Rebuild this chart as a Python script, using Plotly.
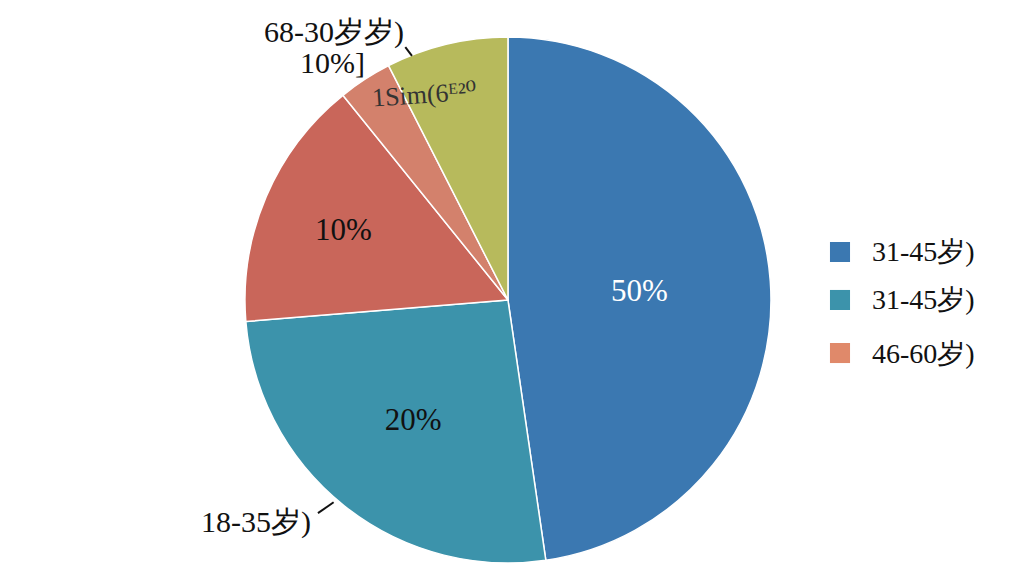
import plotly.graph_objects as go

# slices, clockwise from 12 o'clock
slice_names = ["31-45岁)", "18-35岁)", "46-60岁)", "68-30岁)", "其他"]
slice_values = [47.7, 26.0, 15.5, 3.3, 7.5]
slice_text = ["50%", "20%", "10%", "", ""]
slice_colors = ["#3B78B1", "#3C93AB", "#C9665A", "#D3816C", "#B7BA5C"]

legend_names = ["31-45岁)", "31-45岁)", "46-60岁)"]
legend_colors = ["#3B78B1", "#3C93AB", "#E0896A"]

FONT = "Liberation Serif, DejaVu Serif, serif"


def label(text, x, y, size=30, color="#111", angle=0, xanchor="center"):
    fig.add_annotation(x=x, y=y, xref="paper", yref="paper", text=text,
                       xanchor=xanchor, yanchor="middle", showarrow=False,
                       textangle=angle, font={"family": FONT, "size": size, "color": color})


fig = go.Figure()

fig.add_trace(
    go.Pie(
        labels=slice_names,
        values=slice_values,
        text=slice_text,
        textinfo="text",
        textposition="inside",
        insidetextorientation="horizontal",
        sort=False,
        direction="clockwise",
        rotation=0,
        marker={"colors": slice_colors, "line": {"color": "white", "width": 1.5}},
        textfont={"family": FONT, "size": 31, "color": ["white", "#111", "#111", "#111", "#111"]},
        showlegend=False,
        hoverinfo="label+percent",
        domain={"x": [0.2295, 0.747], "y": [0.0364, 0.9496]},
    )
)

# legend: coloured squares with labels on the right
legend_y = [0.5764, 0.4931, 0.401]
for name, color, y in zip(legend_names, legend_colors, legend_y):
    fig.add_shape(type="rect", xref="paper", yref="paper", x0=0.8027, x1=0.8223,
                  y0=y - 0.0174, y1=y + 0.0174, fillcolor=color, line={"width": 0})
    label(name, 0.8418, y, size=28, xanchor="left")

# outside labels with short leader lines
label("68-30岁岁)", 0.318, 0.958)
label("10%]", 0.317, 0.905)
label("18-35岁)", 0.242, 0.108)
fig.add_shape(type="line", xref="paper", yref="paper", x0=0.388, y0=0.932, x1=0.3945, y1=0.917,
              line={"color": "#111", "width": 2})
fig.add_shape(type="line", xref="paper", yref="paper", x0=0.3027, y0=0.123, x1=0.318, y1=0.142,
              line={"color": "#111", "width": 2})
# smudged text inside the small slices
label("1Sim(6ᴱ²⁰", 0.406, 0.849, size=26, color="#333", angle=-4)

fig.update_layout(
    width=1024,
    height=576,
    margin={"l": 0, "r": 0, "t": 0, "b": 0},
    paper_bgcolor="white",
    plot_bgcolor="white",
    font={"family": FONT, "size": 26, "color": "#111"},
)

fig.write_html("out.html")
